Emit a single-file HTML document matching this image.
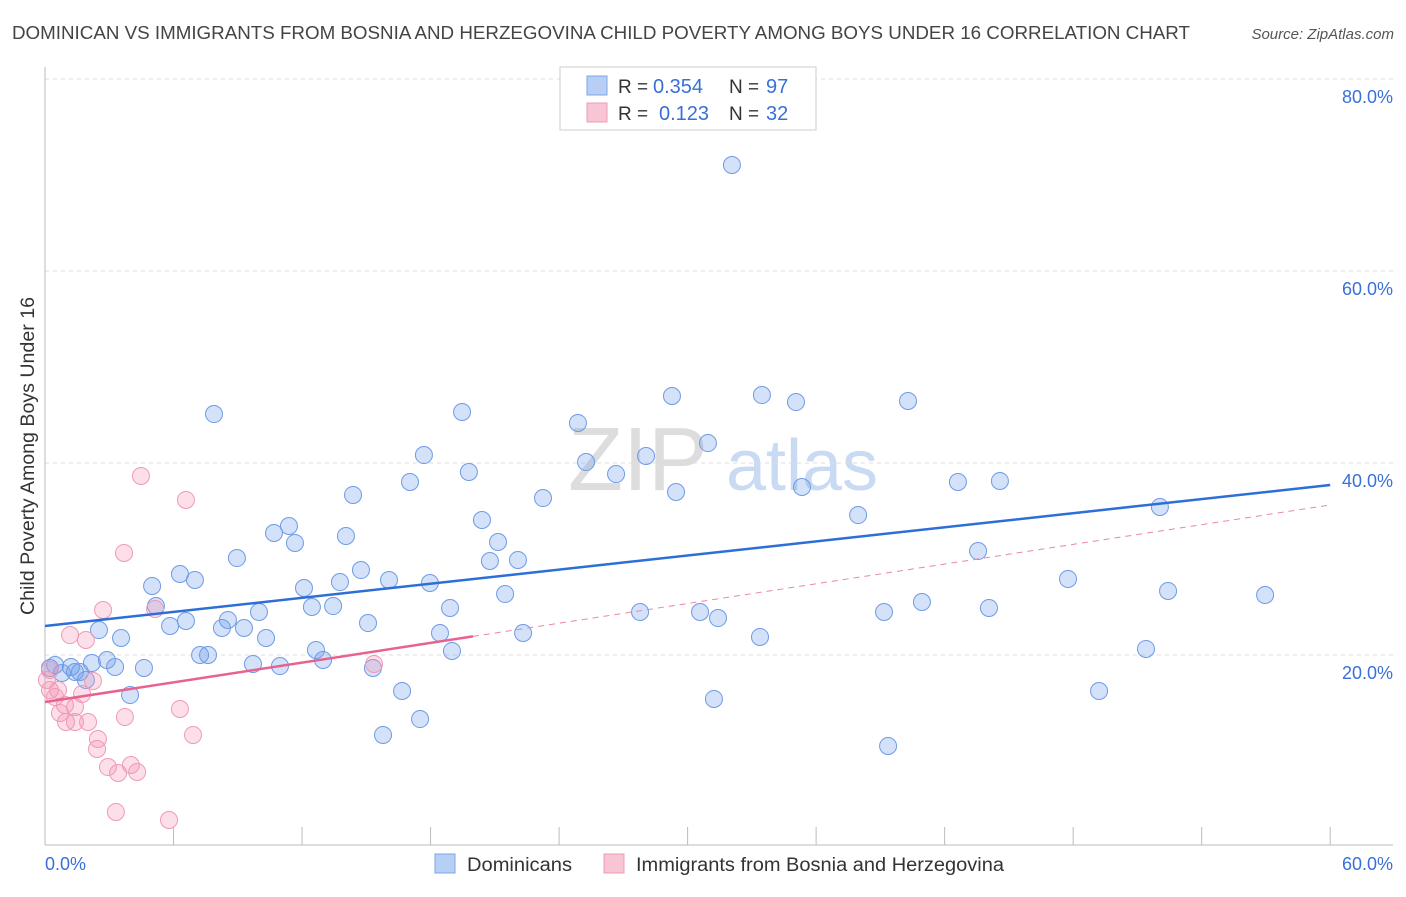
<!DOCTYPE html>
<html><head><meta charset="utf-8">
<style>
body{margin:0;background:#fff;font-family:"Liberation Sans",sans-serif;}
svg text{font-family:"Liberation Sans",sans-serif;}
</style></head>
<body>
<svg id="chart" width="1406" height="892" viewBox="0 0 1406 892" xmlns="http://www.w3.org/2000/svg">
<text x="12" y="39" font-size="18.5" fill="#444" textLength="1178" lengthAdjust="spacingAndGlyphs">DOMINICAN VS IMMIGRANTS FROM BOSNIA AND HERZEGOVINA CHILD POVERTY AMONG BOYS UNDER 16 CORRELATION CHART</text>
<text x="1394" y="39" font-size="15" fill="#555" font-style="italic" text-anchor="end">Source: ZipAtlas.com</text>
<text transform="translate(34,456) rotate(-90)" font-size="19" fill="#333" text-anchor="middle" textLength="318" lengthAdjust="spacingAndGlyphs">Child Poverty Among Boys Under 16</text>
<g>
<text x="638" y="490" font-size="90" fill="#ddd" font-family="Liberation Serif" text-anchor="middle">ZIP</text>
<text x="802" y="490" font-size="72" fill="#c9daf3" text-anchor="middle">atlas</text>
</g>
<g id="grid"></g>
<g id="axes"></g>
<g id="marks"></g>
<g>
<rect x="560" y="67" width="256" height="63" fill="#fff" stroke="#ccc"/>
<rect x="587" y="76" width="20" height="19" fill="#b7cff5" stroke="#7ea4e8"/>
<rect x="587" y="103" width="20" height="19" fill="#f8c5d5" stroke="#ee9bb5"/>
<text x="618" y="93" font-size="19" fill="#333">R =</text><text x="653" y="93" font-size="20" fill="#3a6fd8">0.354</text>
<text x="729" y="93" font-size="19" fill="#333">N =</text><text x="766" y="93" font-size="20" fill="#3a6fd8">97</text>
<text x="618" y="120" font-size="19" fill="#333">R =</text><text x="659" y="120" font-size="20" fill="#3a6fd8">0.123</text>
<text x="729" y="120" font-size="19" fill="#333">N =</text><text x="766" y="120" font-size="20" fill="#3a6fd8">32</text>
</g>
<g>
<rect x="435" y="854" width="20" height="19" fill="#b7cff5" stroke="#7ea4e8"/>
<text x="467" y="871" font-size="19" fill="#333" textLength="105" lengthAdjust="spacingAndGlyphs">Dominicans</text>
<rect x="604" y="854" width="20" height="19" fill="#f8c5d5" stroke="#ee9bb5"/>
<text x="636" y="871" font-size="19" fill="#333" textLength="368" lengthAdjust="spacingAndGlyphs">Immigrants from Bosnia and Herzegovina</text>
</g>
</svg>
<script>
const blueX=[32.07,7.89,19.47,29.27,33.47,35.06,40.29,24.88,30.95,17.69,28.06,25.26,19.79,26.66,17.04,14.38,23.25,29.46,35.34,42.62,44.58,20.40,37.96,52.05,11.39,10.69,11.67,14.05,21.15,8.96,20.77,22.08,43.56,5.00,6.30,7.00,12.09,14.75,16.06,17.97,13.77,47.76,52.43,56.96,5.18,9.99,12.46,13.45,18.91,21.48,27.78,30.58,31.42,39.17,40.94,44.07,5.84,6.58,8.54,8.26,9.29,15.08,2.52,3.55,10.32,18.44,22.32,33.38,7.24,7.61,12.65,12.98,19.00,51.40,2.89,2.19,3.27,4.62,9.71,10.97,15.31,0.47,0.79,1.21,1.63,1.91,3.97,16.67,31.23,49.21,17.51,15.78,39.36,0.23,1.40];
const blueY=[71.04,45.10,45.31,46.98,47.08,46.35,46.46,44.17,42.08,40.83,40.73,40.10,39.06,38.85,38.02,36.67,36.35,36.98,37.5,38.02,38.13,34.06,34.58,35.42,33.44,32.71,31.67,32.40,31.77,30.10,29.79,29.90,30.83,27.19,28.44,27.81,26.98,28.85,27.81,27.5,27.60,27.92,26.67,26.25,25.10,24.48,25.0,25.10,24.90,26.35,24.48,24.48,23.85,24.48,25.52,24.90,23.02,23.54,23.65,22.81,22.81,23.33,22.60,21.77,21.77,22.29,22.29,21.88,20.0,20.0,20.52,19.48,20.42,20.63,19.48,19.17,18.75,18.65,19.06,18.85,18.65,18.96,18.13,18.75,18.23,17.40,15.83,16.25,15.42,16.25,13.33,11.67,10.52,18.65,18.23];
const pinkX=[4.48,6.58,3.69,2.71,5.14,1.17,1.91,0.23,0.09,0.61,1.73,0.47,2.24,0.93,1.40,0.70,0.98,1.40,2.01,3.73,6.30,2.47,2.43,6.91,2.94,3.41,4.01,4.30,3.31,5.79,15.36,0.23];
const pinkY=[38.65,36.15,30.63,24.69,24.79,22.08,21.56,18.44,17.40,16.35,15.94,15.63,17.29,14.79,14.58,13.96,13.02,13.02,13.02,13.54,14.38,11.25,10.21,11.67,8.33,7.71,8.54,7.81,3.65,2.81,19.06,16.35];
const blueTrend=[23.02,37.71];
const pinkTrend=[15.10,35.63];
const pinkSolidEnd=19.98;
const yTicks=[20,40,60,80];
const xTickVals=[0,6,12,18,24,30,36,42,48,54,60];

const NS="http://www.w3.org/2000/svg";
const X=v=>45+v*21.42, Y=v=>847-v*9.6;
function mk(parent,tag,attrs){const e=document.createElementNS(NS,tag);for(const k in attrs)e.setAttribute(k,attrs[k]);document.getElementById(parent).appendChild(e);return e;}
yTicks.forEach(t=>{
  const l=mk('grid','line',{x1:45,x2:1393,y1:Y(t),y2:Y(t),stroke:'#ddd','stroke-dasharray':'4,4'});
  
  
  const tx=mk('grid','text',{x:1393,y:Y(t)+24,'font-size':18,fill:'#3a6fd8','text-anchor':'end'});tx.textContent=t.toFixed(1)+'%';
  
  
});
const ax=mk('axes','line',{x1:45,x2:45,y1:67,y2:845,stroke:'#bbb'});


const bx=mk('axes','line',{x1:45,x2:1393,y1:845,y2:845,stroke:'#bbb'});


xTickVals.forEach(t=>{const l=mk('axes','line',{x1:X(t),x2:X(t),y1:827,y2:845,stroke:'#bbb'});
  
  });
const xl0=mk('axes','text',{x:45,y:870,'font-size':18,fill:'#3a6fd8'});xl0.textContent='0.0%';


const xl1=mk('axes','text',{x:1393,y:870,'font-size':18,fill:'#3a6fd8','text-anchor':'end'});xl1.textContent='60.0%';


blueX.forEach((v,i)=>{const c=mk('marks','circle',{cx:X(v),cy:Y(blueY[i]),r:8.5,fill:'rgba(110,155,235,0.3)',stroke:'#6f9be6','stroke-width':1});
  
  });
pinkX.forEach((v,i)=>{const c=mk('marks','circle',{cx:X(v),cy:Y(pinkY[i]),r:8.5,fill:'rgba(245,150,180,0.3)',stroke:'#ef9ab6','stroke-width':1});
  
  });
const bt=mk('marks','line',{x1:X(0),y1:Y(blueTrend[0]),x2:X(60),y2:Y(blueTrend[1]),stroke:'#2d6fd6','stroke-width':2.5});


const pe=pinkTrend[0]+(pinkTrend[1]-pinkTrend[0])*pinkSolidEnd/60;
const ps=mk('marks','line',{x1:X(0),y1:Y(pinkTrend[0]),x2:X(pinkSolidEnd),y2:Y(pe),stroke:'#e8628f','stroke-width':2.5});


const pd=mk('marks','line',{x1:X(pinkSolidEnd),y1:Y(pe),x2:X(60),y2:Y(pinkTrend[1]),stroke:'#e8889f','stroke-width':1,'stroke-dasharray':'6,5'});


</script>
</body></html>
